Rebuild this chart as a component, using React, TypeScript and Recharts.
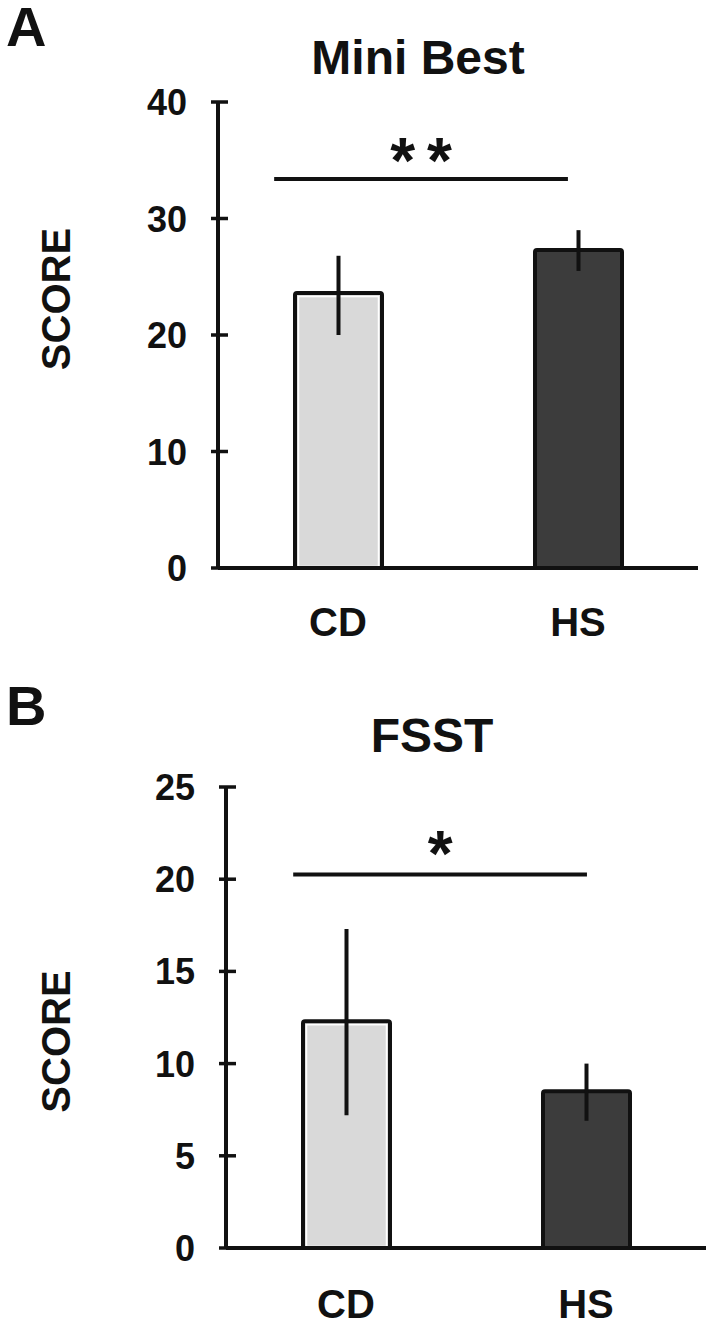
import { BarChart, Bar, XAxis, YAxis, ErrorBar, Cell, ReferenceLine } from "recharts";

const groups = ["CD", "HS"];
const miniBestMean = [23.6, 27.3];
const miniBestErr = [[3.6, 3.2], [1.8, 1.7]];
const fsstMean = [12.3, 8.5];
const fsstErr = [[5.1, 5.0], [1.6, 1.5]];
const miniBestTicks = [0, 10, 20, 30, 40];
const fsstTicks = [0, 5, 10, 15, 20, 25];
// significance brackets: x as a fraction of the plot width, y in score units
const miniBestSig = { from: 0.117, to: 0.729, y: 33.4, mark: "**" };
const fsstSig = { from: 0.14, to: 0.752, y: 20.25, mark: "*" };

const INK = "#111";
const FONT = "'Liberation Sans', Arial, Helvetica, sans-serif";
const barFills = ["#d9d9d9", "#3c3c3c"];

const build = (mean: number[], err: number[][]) =>
  groups.map((g, i) => ({ group: g, mean: mean[i], err: err[i] }));

const miniBestData = build(miniBestMean, miniBestErr);
const fsstData = build(fsstMean, fsstErr);

const TICK_MARGIN = 31;

const YTick = (props: any) => {
  const { x, y, payload } = props;
  const ax = x + TICK_MARGIN;
  return (
    <g>
      <line x1={ax - 7} x2={ax + 10} y1={y} y2={y} stroke={INK} strokeWidth={3.5} />
      <text x={x} y={y} dy={13} textAnchor="end" fontSize={36} fontWeight={700} fill={INK} fontFamily={FONT}>
        {payload.value}
      </text>
    </g>
  );
};

const BarShape = (p: any) => {
  const { x, y, width, height, fill } = p;
  const light = fill === barFills[0];
  return (
    <g>
      <rect x={x} y={y} width={width} height={height} rx={2} fill={fill} stroke={INK} strokeWidth={4} />
      {light && (
        <rect x={x + 3.5} y={y + 3.5} width={width - 7} height={height - 5} fill="none" stroke="#fff" strokeWidth={1.5} />
      )}
    </g>
  );
};

type PanelProps = {
  data: any[];
  ticks: number[];
  sig: { from: number; to: number; y: number; mark: string };
  top: number;
  height: number;
  yWidth: number;
  marginTop: number;
  xHeight: number;
  xTickMargin: number;
  scoreShift: number;
  starOffset: number;
};

const Panel = ({ data, ticks, sig, top, height, yWidth, marginTop, xHeight, xTickMargin, scoreShift, starOffset }: PanelProps) => (
  <div style={{ position: "absolute", left: 0, top }}>
    <BarChart width={708} height={height} data={data} margin={{ top: marginTop, right: 708 - yWidth - 480, bottom: 0, left: 0 }} barSize={87}>
      <XAxis
        dataKey="group"
        height={xHeight}
        axisLine={{ stroke: INK, strokeWidth: 4 }}
        tickLine={false}
        tickSize={0}
        tickMargin={xTickMargin}
        tick={{ fontSize: 40, fontWeight: 700, fill: INK, fontFamily: FONT }}
      />
      <XAxis xAxisId="sig" type="number" domain={[0, 1]} allowDataOverflow hide />
      <YAxis
        width={yWidth}
        domain={[0, ticks[ticks.length - 1]]}
        ticks={ticks}
        interval={0}
        axisLine={{ stroke: INK, strokeWidth: 4 }}
        tickLine={false}
        tickSize={0}
        tickMargin={TICK_MARGIN}
        tick={<YTick />}
        label={{
          content: (p: any) => {
            const cy = p.viewBox.y + p.viewBox.height / 2 + scoreShift;
            return (
              <text
                transform={`translate(56, ${cy}) rotate(-90)`}
                textAnchor="middle"
                dy={14}
                fontSize={40}
                fontWeight={700}
                fill={INK}
                fontFamily={FONT}
              >
                SCORE
              </text>
            );
          },
        }}
      />
      <ReferenceLine
        xAxisId="sig"
        ifOverflow="visible"
        segment={[{ x: sig.from, y: sig.y }, { x: sig.to, y: sig.y }]}
        stroke={INK}
        strokeWidth={4}
        label={{
          value: sig.mark,
          position: "top",
          offset: starOffset,
          fontSize: 64,
          fontWeight: 700,
          fill: INK,
          fontFamily: FONT,
          letterSpacing: 12,
          dx: 6,
        }}
      />
      <Bar dataKey="mean" isAnimationActive={false} shape={<BarShape />}>
        {data.map((d, i) => (
          <Cell key={d.group} fill={barFills[i]} />
        ))}
        <ErrorBar dataKey="err" width={0} strokeWidth={4} stroke={INK} direction="y" />
      </Bar>
    </BarChart>
  </div>
);

export default function App() {
  return (
    <div style={{ position: "absolute", left: 0, top: 0, width: 708, height: 1325, background: "#fff" }}>
      <Panel data={miniBestData} ticks={miniBestTicks} sig={miniBestSig} top={0} height={660} yWidth={218} marginTop={102} xHeight={92} xTickMargin={40} scoreShift={-36} starOffset={-4} />
      <Panel data={fsstData} ticks={fsstTicks} sig={fsstSig} top={640} height={685} yWidth={226} marginTop={147} xHeight={77} xTickMargin={42} scoreShift={24} starOffset={-1} />
      <svg width={708} height={1325} style={{ position: "absolute", left: 0, top: 0, pointerEvents: "none" }}>
        <g fontFamily={FONT} fontWeight={700} fill={INK}>
          <text x={6} y={46} fontSize={56}>A</text>
          <text x={6} y={725} fontSize={56}>B</text>
          <text x={418} y={74} fontSize={48} textAnchor="middle">Mini Best</text>
          <text x={432} y={752} fontSize={48} textAnchor="middle">FSST</text>
        </g>
      </svg>
    </div>
  );
}
